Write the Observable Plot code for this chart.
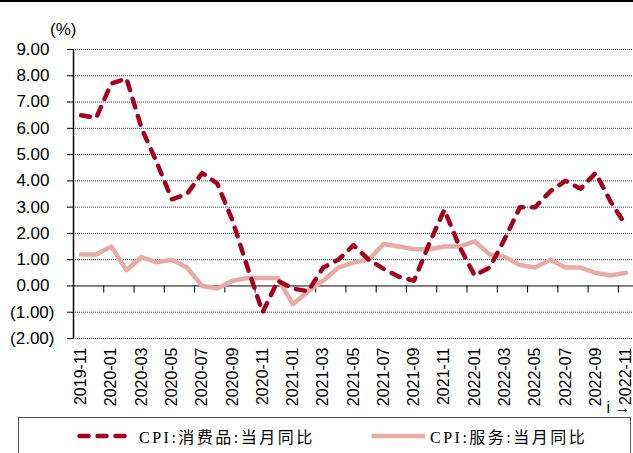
<!DOCTYPE html>
<html><head><meta charset="utf-8">
<script src="https://cdn.jsdelivr.net/npm/d3@7"></script>
<script src="https://cdn.jsdelivr.net/npm/@observablehq/plot@0.6"></script>
<style>
body{margin:0;background:#fff;width:633px;height:453px;overflow:hidden;position:relative;font-family:"Liberation Sans",Arial,sans-serif;}
#topbar{position:absolute;left:0;top:0;width:633px;height:2px;background:#000;z-index:2;}
#chart{position:absolute;left:0;top:0;}
#unit{position:absolute;left:50px;top:20px;font-size:17px;color:#000;}
#legend{position:absolute;left:18px;top:417px;width:613px;height:50px;border:1px solid #555;box-sizing:border-box;}
.item{position:absolute;top:8px;height:20px;display:flex;align-items:center;font-family:"Liberation Serif","Noto Sans CJK SC",serif;font-size:16px;letter-spacing:2.5px;color:#000;white-space:nowrap;}
</style>
</head><body>
<div id="topbar"></div>
<div id="chart"></div>
<div id="unit">(%)</div>
<div id="legend"></div>
<script>
const months = ["2019-11","2019-12","2020-01","2020-02","2020-03","2020-04","2020-05","2020-06","2020-07","2020-08","2020-09","2020-10","2020-11","2020-12","2021-01","2021-02","2021-03","2021-04","2021-05","2021-06","2021-07","2021-08","2021-09","2021-10","2021-11","2021-12","2022-01","2022-02","2022-03","2022-04","2022-05","2022-06","2022-07","2022-08","2022-09","2022-10","2022-11"];
const goods = [6.5,6.4,7.7,7.9,6.0,4.7,3.3,3.5,4.3,3.9,2.5,0.7,-1.0,0.2,-0.1,-0.2,0.7,1.0,1.55,1.0,0.65,0.35,0.2,1.6,2.9,1.5,0.4,0.7,1.8,3.0,3.0,3.6,4.0,3.7,4.3,3.2,2.3];
const services = [1.2,1.2,1.5,0.6,1.1,0.9,1.0,0.7,0.0,-0.1,0.2,0.3,0.3,0.3,-0.7,-0.2,0.2,0.7,0.9,1.0,1.6,1.5,1.4,1.4,1.5,1.5,1.7,1.2,1.1,0.8,0.7,1.0,0.7,0.7,0.5,0.4,0.5];
const yTicks = [-2,-1,0,1,2,3,4,5,6,7,8,9];
const seriesNames = ["CPI:消费品:当月同比","CPI:服务:当月同比"];
const colors = ["#A50021","#E9A9A7"];

const data = months.map((m,i)=>({i, m, goods: goods[i], services: services[i]}));
const labelIdx = months.map((m,i)=>i).filter(i=>i%2===0);
const tickPos = months.map((m,i)=>i+0.5).filter((d,i)=>i%2===1 && i<months.length-1);

const chart = Plot.plot({
  width:633, height:415,
  marginLeft:73, marginRight:0, marginTop:49, marginBottom:77,
  x:{domain:[-0.5, months.length-0.5], axis:null},
  y:{domain:[-2,9], axis:null},
  style:{fontFamily:"'Liberation Sans', Arial, sans-serif", fontSize:"17px", color:"#000", background:"transparent", overflow:"visible"},
  marks:[
    Plot.ruleY(yTicks.filter(d=>d!==0), {stroke:"#333", strokeDasharray:"1 1", strokeWidth:1}),
    Plot.ruleY([0], {stroke:"#000", strokeWidth:1}),
    Plot.ruleX(tickPos, {y1:0, y2:-0.27, stroke:"#000", strokeWidth:1}),
    Plot.ruleX([-0.5], {stroke:"#000", strokeWidth:1.5}),
    Plot.axisY(yTicks.filter(d=>d>=0), {tickSize:6, tickPadding:18, tickFormat:d=>d.toFixed(2), fontSize:17, stroke:"#000"}),
    Plot.axisY(yTicks.filter(d=>d<0), {tickSize:6, tickPadding:13, tickFormat:d=>`(${Math.abs(d).toFixed(2)})`, fontSize:17, stroke:"#000"}),
    Plot.axisX(labelIdx, {tickSize:0, tickRotate:-90, tickPadding:9, tickFormat:i=>months[i], fontSize:16}),
    Plot.line(data,{x:"i", y:"services", stroke:colors[1], strokeWidth:4.5, strokeLinejoin:"round"}),
    Plot.line(data,{x:"i", y:"goods", stroke:colors[0], strokeWidth:4.5, strokeDasharray:"9 9", strokeLinecap:"round", strokeLinejoin:"round"})
  ]
});
document.getElementById("chart").appendChild(chart);

const legend = document.getElementById("legend");
const items = [
  {name:seriesNames[0], color:colors[0], dash:"9 9", cap:"round", left:58, w:52, gap:6},
  {name:seriesNames[1], color:colors[1], dash:null, cap:"butt", left:350, w:56, gap:1}
];
for (const it of items) {
  const d = document.createElement("div");
  d.className = "item";
  d.style.left = it.left + "px";
  const ns = "http://www.w3.org/2000/svg";
  const s = document.createElementNS(ns,"svg");
  s.setAttribute("width", it.w + 4); s.setAttribute("height", 10);
  s.style.marginRight = it.gap + "px";
  const l = document.createElementNS(ns,"line");
  l.setAttribute("x1", 2.5); l.setAttribute("x2", it.w); l.setAttribute("y1",5); l.setAttribute("y2",5);
  l.setAttribute("stroke", it.color); l.setAttribute("stroke-width", 4.5);
  l.setAttribute("stroke-linecap", it.cap);
  if (it.dash) l.setAttribute("stroke-dasharray", it.dash);
  s.appendChild(l);
  d.appendChild(s);
  const t = document.createElement("span");
  t.textContent = it.name;
  d.appendChild(t);
  legend.appendChild(d);
}
</script>
</body></html>
